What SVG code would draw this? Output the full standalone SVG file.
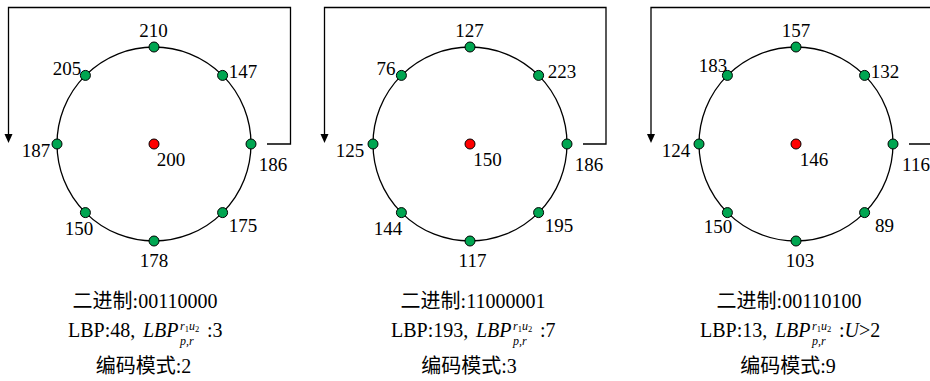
<svg xmlns="http://www.w3.org/2000/svg" width="930" height="381" viewBox="0 0 930 381">
<style>
text{font-family:"Liberation Serif","Times New Roman","Noto Sans CJK SC",serif;font-size:19px;fill:#000}
.b{font-size:20px}
.ring{fill:none;stroke:#000;stroke-width:1.3}
.g{fill:#00a651;stroke:#000;stroke-width:1}
.r{fill:#ff0000;stroke:#000;stroke-width:1}
.loop{fill:none;stroke:#000;stroke-width:1.3}
.it{font-style:italic;font-size:20px}
.sup{font-style:italic;font-size:12px}
.ss{font-size:8.5px;font-style:normal}
.sub{font-style:italic;font-size:12px}
.m{text-anchor:middle}
</style>
<g id="connectors">
<path class="loop" d="M267,144 H290.5 V7.5 H8.5 V134"/>
<path d="M4.5,134 L12.5,134 L8.5,143 Z" fill="#000"/>
<path class="loop" d="M583,144 H606 V7.5 H324.5 V134"/>
<path d="M320.5,134 L328.5,134 L324.5,143 Z" fill="#000"/>
<path class="loop" d="M909,144 H930 M930,7.5 H651 V134"/>
<path d="M647,134 L655,134 L651,143 Z" fill="#000"/>
</g>
<g id="node1">
<circle class="ring" cx="154" cy="144" r="97"/>
<circle class="g" cx="154" cy="47" r="5"/>
<circle class="g" cx="222.6" cy="75.4" r="5"/>
<circle class="g" cx="251" cy="144" r="5"/>
<circle class="g" cx="222.6" cy="212.6" r="5"/>
<circle class="g" cx="154" cy="241" r="5"/>
<circle class="g" cx="85.4" cy="212.6" r="5"/>
<circle class="g" cx="57" cy="144" r="5"/>
<circle class="g" cx="85.4" cy="75.4" r="5"/>
<circle class="r" cx="154" cy="144" r="5"/>
<text x="153.5" y="37" class="m">210</text>
<text x="67" y="75" class="m">205</text>
<text x="243" y="78" class="m">147</text>
<text x="36" y="157" class="m">187</text>
<text x="171" y="166" class="m">200</text>
<text x="273" y="171" class="m">186</text>
<text x="79" y="235" class="m">150</text>
<text x="243" y="232" class="m">175</text>
<text x="154" y="267" class="m">178</text>
<text x="145" y="308" class="m b">二进制:00110000</text>
<text x="68" y="337" class="b">LBP:48,</text>
<text x="143" y="337" class="it">LBP</text>
<text x="180" y="330" class="sup">r<tspan class="ss" dy="2">1</tspan><tspan dy="-2">u</tspan><tspan class="ss" dy="2">2</tspan></text>
<text x="180" y="345" class="sub">p,r</text>
<text x="207" y="337" class="b">:3</text>
<text x="143.5" y="373" class="m b">编码模式:2</text>
</g>
<g id="node2">
<circle class="ring" cx="470" cy="144" r="97"/>
<circle class="g" cx="470" cy="47" r="5"/>
<circle class="g" cx="538.6" cy="75.4" r="5"/>
<circle class="g" cx="567" cy="144" r="5"/>
<circle class="g" cx="538.6" cy="212.6" r="5"/>
<circle class="g" cx="470" cy="241" r="5"/>
<circle class="g" cx="401.4" cy="212.6" r="5"/>
<circle class="g" cx="373" cy="144" r="5"/>
<circle class="g" cx="401.4" cy="75.4" r="5"/>
<circle class="r" cx="470" cy="144" r="5"/>
<text x="469.5" y="37" class="m">127</text>
<text x="386" y="75" class="m">76</text>
<text x="562" y="78" class="m">223</text>
<text x="350" y="157" class="m">125</text>
<text x="487.5" y="166" class="m">150</text>
<text x="589" y="171" class="m">186</text>
<text x="388" y="235" class="m">144</text>
<text x="559" y="232" class="m">195</text>
<text x="472.5" y="267" class="m">117</text>
<text x="473" y="308" class="m b">二进制:11000001</text>
<text x="391" y="337" class="b">LBP:193,</text>
<text x="476" y="337" class="it">LBP</text>
<text x="513" y="330" class="sup">r<tspan class="ss" dy="2">1</tspan><tspan dy="-2">u</tspan><tspan class="ss" dy="2">2</tspan></text>
<text x="513" y="345" class="sub">p,r</text>
<text x="540" y="337" class="b">:7</text>
<text x="469" y="373" class="m b">编码模式:3</text>
</g>
<g id="node3">
<circle class="ring" cx="796" cy="144" r="97"/>
<circle class="g" cx="796" cy="47" r="5"/>
<circle class="g" cx="864.6" cy="75.4" r="5"/>
<circle class="g" cx="893" cy="144" r="5"/>
<circle class="g" cx="864.6" cy="212.6" r="5"/>
<circle class="g" cx="796" cy="241" r="5"/>
<circle class="g" cx="727.4" cy="212.6" r="5"/>
<circle class="g" cx="699" cy="144" r="5"/>
<circle class="g" cx="727.4" cy="75.4" r="5"/>
<circle class="r" cx="796" cy="144" r="5"/>
<text x="796" y="37" class="m">157</text>
<text x="713" y="72" class="m">183</text>
<text x="885" y="78" class="m">132</text>
<text x="676" y="157" class="m">124</text>
<text x="814" y="166" class="m">146</text>
<text x="916" y="171" class="m">116</text>
<text x="718" y="233" class="m">150</text>
<text x="884.5" y="232" class="m">89</text>
<text x="800" y="267" class="m">103</text>
<text x="789" y="308" class="m b">二进制:00110100</text>
<text x="700" y="337" class="b">LBP:13,</text>
<text x="775" y="337" class="it">LBP</text>
<text x="812" y="330" class="sup">r<tspan class="ss" dy="2">1</tspan><tspan dy="-2">u</tspan><tspan class="ss" dy="2">2</tspan></text>
<text x="812" y="345" class="sub">p,r</text>
<text x="839" y="337" class="b">:<tspan font-style="italic">U</tspan>&gt;2</text>
<text x="788" y="373" class="m b">编码模式:9</text>
</g>
</svg>
